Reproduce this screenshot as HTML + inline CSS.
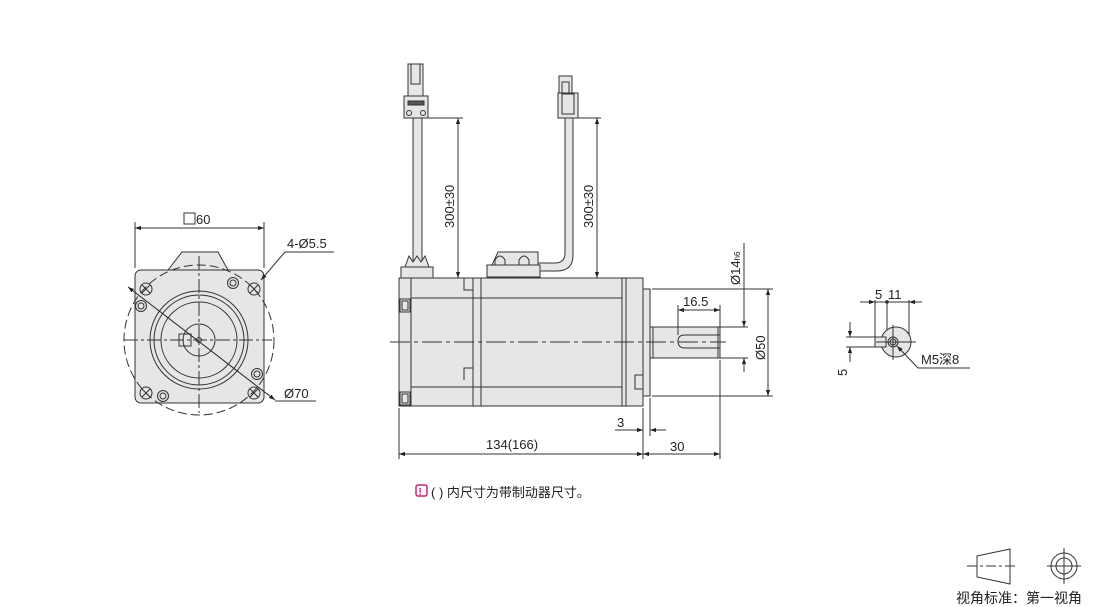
<!DOCTYPE html>
<html><head><meta charset="utf-8"><style>
html,body{margin:0;padding:0;background:#fff;}
svg{display:block;}
text{font-family:"Liberation Sans","Noto Sans CJK SC",sans-serif;fill:#222;}
</style></head><body>
<svg width="1110" height="607" viewBox="0 0 1110 607" xmlns="http://www.w3.org/2000/svg">
<defs>
<marker id="a" viewBox="0 0 10 10" refX="10" refY="5" markerWidth="9" markerHeight="6" orient="auto-start-reverse" markerUnits="userSpaceOnUse"><path d="M0,1.5 L10,5 L0,8.5 z" fill="#222"/></marker>
</defs>
<g stroke="#333" stroke-width="1" fill="none">
<!-- FRONT VIEW -->
<path d="M168,270 L182,252 L218,252 L228,270 Z" fill="#e6e6e6"/>
<rect x="135" y="270" width="129" height="133" rx="6" fill="#e6e6e6"/>
<circle cx="199" cy="340" r="75" stroke-dasharray="9,4"/>
<circle cx="199" cy="340" r="49"/>
<circle cx="199" cy="340" r="45"/>
<circle cx="199" cy="340" r="38"/>
<circle cx="199" cy="340" r="16"/>
<circle cx="199" cy="340" r="2.5"/>
<rect x="179" y="334" width="12" height="12"/>
<g stroke-dasharray="14,3,3,3">
<line x1="199" y1="256" x2="199" y2="413"/>
<line x1="124" y1="340" x2="272" y2="340"/>
</g>
<g>
<circle cx="146" cy="289" r="6"/><path d="M142,285l8,8M150,285l-8,8"/>
<circle cx="254" cy="289" r="6"/><path d="M250,285l8,8M258,285l-8,8"/>
<circle cx="146" cy="393" r="6"/><path d="M142,389l8,8M150,389l-8,8"/>
<circle cx="254" cy="393" r="6"/><path d="M250,389l8,8M258,389l-8,8"/>
<circle cx="233" cy="283" r="5.5"/><circle cx="233" cy="283" r="3"/>
<circle cx="141" cy="306" r="5.5"/><circle cx="141" cy="306" r="3"/>
<circle cx="257" cy="374" r="5.5"/><circle cx="257" cy="374" r="3"/>
<circle cx="163" cy="396" r="5.5"/><circle cx="163" cy="396" r="3"/>
</g>
<line x1="128" y1="287" x2="275" y2="400" stroke="#222" marker-start="url(#a)" marker-end="url(#a)"/>
<line x1="135" y1="222" x2="135" y2="268"/><line x1="264" y1="222" x2="264" y2="268"/>
<line x1="135" y1="228" x2="264" y2="228" marker-start="url(#a)" marker-end="url(#a)"/>
<polyline points="334,252 285,252 261,280" marker-end="url(#a)"/>
<line x1="275" y1="401" x2="316" y2="401"/>
<rect x="184" y="213" width="11" height="11"/>

<!-- SIDE VIEW connectors/cables -->
<rect x="413" y="118" width="9" height="144" fill="#e6e6e6"/>
<rect x="408" y="64" width="15" height="32" fill="#e6e6e6"/>
<rect x="411" y="64" width="9" height="20"/>
<rect x="404" y="96" width="24" height="22" fill="#e6e6e6"/>
<rect x="408" y="101" width="16" height="4" fill="#555"/>
<circle cx="409" cy="113" r="2.5"/><circle cx="423" cy="113" r="2.5"/>
<path d="M405,267 L409,256 L413,262 L417,256 L421,262 L425,256 L429,267" fill="#e6e6e6"/>
<rect x="401" y="267" width="32" height="11" fill="#e6e6e6"/>
<path d="M538,263 L555,263 Q565,263 565,253 L565,118 L573,118 L573,255 Q573,271 557,271 L538,271" fill="#e6e6e6"/>
<rect x="559" y="76" width="13" height="20" fill="#e6e6e6"/>
<rect x="562" y="82" width="7" height="14"/>
<rect x="558" y="93" width="20" height="25" fill="#e6e6e6"/>
<rect x="562" y="94" width="12" height="20"/>
<path d="M487,265 L492,265 L498,252 L538,252 L538,265 L540,265 L540,277 L487,277 Z" fill="#e6e6e6"/>
<line x1="487" y1="265" x2="538" y2="265"/>
<path d="M495,265 L495,260 Q500,252 505,260 L505,265"/>
<path d="M519,265 L519,260 Q524,252 529,260 L529,265"/>

<!-- body -->
<rect x="399" y="278" width="244" height="128" fill="#e6e6e6"/>
<rect x="643" y="289" width="7" height="107" fill="#e6e6e6"/>
<rect x="650" y="327" width="70" height="31" fill="#e6e6e6"/>
<line x1="653" y1="327" x2="653" y2="358"/>
<path d="M720,335 L685,335 Q678,335 678,341 Q678,348 685,348 L720,348"/>
<line x1="718" y1="327" x2="718" y2="358"/>
<line x1="411" y1="278" x2="411" y2="406"/>
<line x1="473" y1="278" x2="473" y2="406"/>
<line x1="481" y1="278" x2="481" y2="406"/>
<line x1="622" y1="278" x2="622" y2="406"/>
<line x1="626" y1="278" x2="626" y2="406"/>
<line x1="411" y1="298" x2="622" y2="298"/>
<line x1="411" y1="387" x2="622" y2="387"/>
<rect x="400" y="299" width="10" height="13"/><rect x="402" y="301" width="6" height="9"/>
<rect x="400" y="392" width="10" height="13"/><rect x="402" y="394" width="6" height="9"/>
<path d="M464,278 L464,290 L473,290"/><path d="M464,380 L464,368 L473,368"/>
<rect x="635" y="375" width="8" height="14"/>
<line x1="390" y1="342" x2="726" y2="342" stroke-dasharray="20,4,4,4"/>

<!-- dims side -->
<line x1="428" y1="118" x2="463" y2="118"/>
<line x1="458" y1="118" x2="458" y2="278" marker-start="url(#a)" marker-end="url(#a)"/>
<line x1="578" y1="118" x2="601" y2="118"/>
<line x1="597" y1="118" x2="597" y2="278" marker-start="url(#a)" marker-end="url(#a)"/>
<line x1="399" y1="408" x2="399" y2="459"/>
<line x1="643" y1="408" x2="643" y2="459"/>
<line x1="650" y1="398" x2="650" y2="436"/>
<line x1="720" y1="360" x2="720" y2="459"/>
<line x1="399" y1="454" x2="643" y2="454" marker-start="url(#a)" marker-end="url(#a)"/>
<line x1="643" y1="454" x2="720" y2="454" marker-start="url(#a)" marker-end="url(#a)"/>
<line x1="615" y1="430" x2="643" y2="430" marker-end="url(#a)"/>
<line x1="666" y1="430" x2="650" y2="430" marker-end="url(#a)"/>
<line x1="678" y1="305" x2="678" y2="335"/>
<line x1="720" y1="305" x2="720" y2="327"/>
<line x1="678" y1="310" x2="720" y2="310" marker-start="url(#a)" marker-end="url(#a)"/>
<line x1="720" y1="327" x2="748" y2="327"/><line x1="720" y1="358" x2="748" y2="358"/>
<line x1="744" y1="243" x2="744" y2="327" marker-end="url(#a)"/>
<line x1="744" y1="372" x2="744" y2="358" marker-end="url(#a)"/>
<line x1="652" y1="289" x2="773" y2="289"/><line x1="652" y1="396" x2="773" y2="396"/>
<line x1="768" y1="289" x2="768" y2="396" marker-start="url(#a)" marker-end="url(#a)"/>

<!-- end view -->
<circle cx="896" cy="342" r="15" fill="#e6e6e6"/>
<rect x="875" y="337" width="11" height="10" fill="#e6e6e6"/>
<circle cx="893" cy="342" r="5"/><circle cx="893" cy="342" r="3"/>
<line x1="893" y1="325" x2="893" y2="360"/><line x1="876" y1="342" x2="916" y2="342"/>
<line x1="875" y1="300" x2="875" y2="337"/><line x1="887" y1="300" x2="887" y2="330"/><line x1="909" y1="300" x2="909" y2="335"/>
<line x1="860" y1="302" x2="875" y2="302" marker-end="url(#a)"/>
<line x1="875" y1="302" x2="909" y2="302"/>
<circle cx="887" cy="302" r="1.3" fill="#222"/>
<line x1="922" y1="302" x2="909" y2="302" marker-end="url(#a)"/>
<line x1="846" y1="337" x2="875" y2="337"/><line x1="846" y1="347" x2="875" y2="347"/>
<line x1="850" y1="322" x2="850" y2="337" marker-end="url(#a)"/>
<line x1="850" y1="362" x2="850" y2="347" marker-end="url(#a)"/>
<polyline points="970,368 918,368 897,346" marker-end="url(#a)"/>

<!-- symbol -->
<path d="M977,556 L1010,549 L1010,584 L977,577 Z"/>
<line x1="967" y1="566" x2="1016" y2="566" stroke-dasharray="10,3,3,3"/>
<circle cx="1064" cy="566" r="13"/><circle cx="1064" cy="566" r="8"/>
<line x1="1047" y1="566" x2="1081" y2="566"/><line x1="1064" y1="548" x2="1064" y2="584"/>
</g>

<g font-size="13">
<text x="196" y="224">60</text>
<text x="287" y="248">4-Ø5.5</text>
<text x="284" y="398">Ø70</text>
<text transform="translate(454,228) rotate(-90)">300±30</text>
<text transform="translate(593,228) rotate(-90)">300±30</text>
<text x="486" y="449">134(166)</text>
<text x="670" y="451">30</text>
<text x="617" y="427">3</text>
<text x="683" y="306">16.5</text>
<text transform="translate(740,285) rotate(-90)">Ø14<tspan font-size="8">h6</tspan></text>
<text transform="translate(765,360) rotate(-90)">Ø50</text>
<text x="875" y="299">5</text>
<text x="888" y="299">11</text>
<text transform="translate(847,376) rotate(-90)">5</text>
<text x="921" y="364">M5深8</text>
<text x="956" y="603" font-size="14">视角标准：第一视角</text>
<text x="431" y="497">( ) 内尺寸为带制动器尺寸。</text>
</g>
<rect x="416" y="485" width="11" height="11" rx="2" fill="none" stroke="#c0287a" stroke-width="1.5"/>
<text x="418.5" y="495" font-size="10" font-weight="bold" style="fill:#c0287a">!</text>
</svg>
</body></html>
